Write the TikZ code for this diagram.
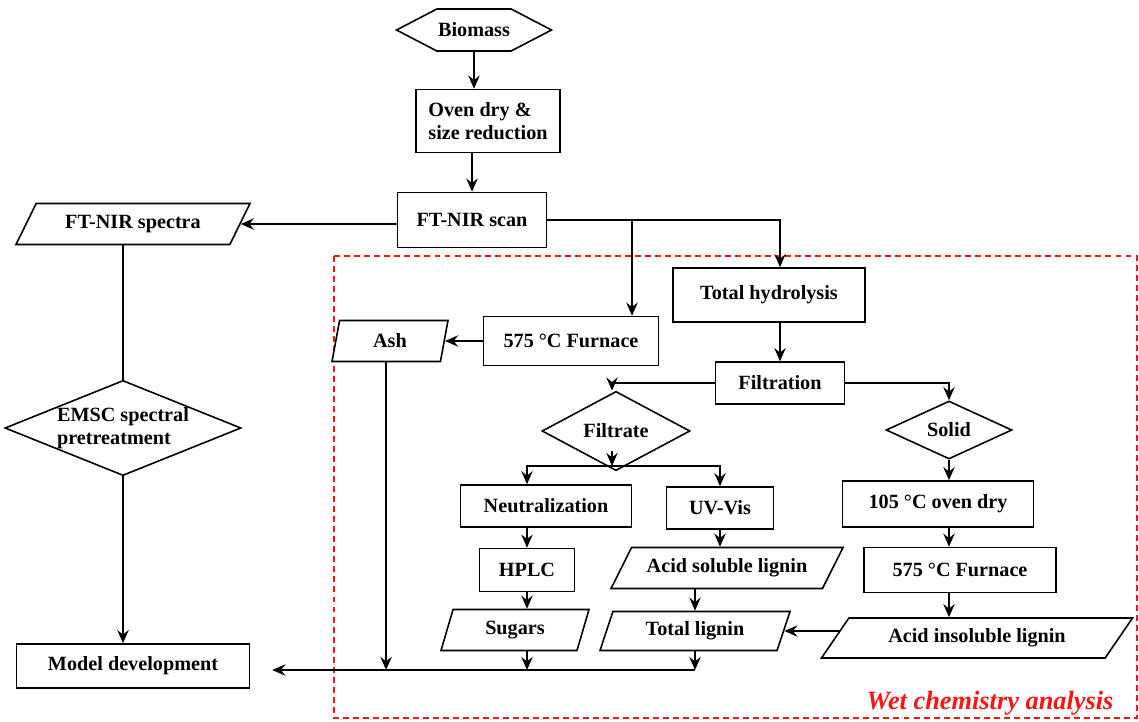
\documentclass[tikz,border=0pt]{standalone}
\usepackage{fontspec}
\setmainfont{Liberation Serif}
\usetikzlibrary{shapes.geometric,shapes.symbols,arrows.meta,backgrounds}
\newcommand{\px}{0.02cm}
\begin{document}
\begin{tikzpicture}[x=0.02cm,y=-0.02cm,
  font=\fontsize{11.5}{13.5}\selectfont\bfseries,
  every node/.style={inner sep=0pt},
  procbox/.style 2 args={draw,line width=0.9pt,fill=white,rectangle,
    minimum width=#1*\px,minimum height=#2*\px},
  datanode/.style n args={3}{draw,line width=0.9pt,fill=white,trapezium,
    trapezium left angle=#3,trapezium right angle=180-#3,
    trapezium stretches body,minimum width=#1*\px,minimum height=#2*\px},
  decision/.style 2 args={draw,line width=0.9pt,fill=white,diamond,
    minimum width=#1*\px,minimum height=#2*\px},
  hexa/.style={draw,line width=0.9pt,fill=white,signal,signal to=west and east,
    signal pointer angle=55,minimum width=155*\px,minimum height=42*\px},
  arr/.style={-{Stealth[length=7.5pt,width=6.5pt,inset=2.6pt]},line width=0.9pt}]
  \definecolor{wetred}{RGB}{255,20,20}
  \useasboundingbox (0,0) rectangle (1139,721);
  \draw[wetred,line width=0.6pt,dash pattern=on 3.4pt off 2.3pt] (334,256) rectangle (1137,718);

  % measurement path
  \node[hexa] (bio) at (474,30) {Biomass};
  \node[procbox={144}{63},align=left] (oven) at (488,121) {Oven dry \&\\size reduction};
  \node[procbox={149}{55}] (scan) at (472,220) {FT-NIR scan};
  \node[datanode={234}{41}{41}] (spectra) at (133,224) {FT-NIR spectra};
  \node[decision={233}{94},aspect=2.48,align=left] (emsc) at (123,428) {EMSC spectral\\pretreatment};
  \node[procbox={233}{44}] (model) at (133,666) {Model development};

  % wet chemistry
  \node[procbox={192}{54}] (hydro) at (769,295) {Total hydrolysis};
  \node[procbox={175}{49}] (fur1) at (571,341) {575 °C Furnace};
  \node[datanode={116}{41}{62}] (ash) at (390,341) {Ash};
  \node[procbox={129}{42}] (filt) at (780,383) {Filtration};
  \node[decision={148}{54}] (filtrate) at (616,431) {Filtrate};
  \node[decision={126}{53}] (solid) at (949,430) {Solid};
  \node[procbox={191}{46}] (dry) at (938,504) {105 °C oven dry};
  \node[procbox={192}{45}] (fur2) at (960,570) {575 °C Furnace};
  \node[datanode={311}{40}{34}] (ai) at (977,638) {Acid insoluble lignin};
  \node[procbox={171}{42}] (neut) at (546,506) {Neutralization};
  \node[procbox={107}{42}] (uv) at (720,508) {UV-Vis};
  \node[procbox={95}{43}] (hplc) at (527,570) {HPLC};
  \node[datanode={232}{41}{42}] (asl) at (727,568) {Acid soluble lignin};
  \node[datanode={190}{39}{55}] (tl) at (695,631) {Total lignin};
  \node[datanode={148}{41}{56}] (sugars) at (515,630) {Sugars};
  \node[text=wetred,font=\fontsize{15}{17}\selectfont\bfseries\itshape] (wet) at (990,703) {Wet chemistry analysis};

  \coordinate (split) at (632,220);
  \coordinate (fsplit) at (612,466);
  \coordinate (bus) at (695,670);

  \draw[arr] (bio.south) -- (bio.south |- oven.north);
  \draw[arr] (oven.south -| scan) -- (scan.north);
  \draw[arr] (scan.west |- spectra) -- (spectra.east);
  \draw[line width=0.9pt] (emsc.north |- spectra.south) -- (emsc.north);
  \draw[arr] (emsc.south) -- (emsc.south |- model.north);
  \draw[arr] (scan.east) -| (hydro.north -| filt.north);
  \draw[arr] (split) -- (split |- fur1.north);
  \draw[arr] (fur1.west) -- (ash.east);
  \draw[arr] (ash.bottom side) -- (ash.bottom side |- bus);
  \draw[arr] (filt.north |- hydro.south) -- (filt.north);
  \draw[arr] (filt.west) -| (fsplit |- filtrate.north);
  \draw[arr] (filt.east) -| (solid.north);
  \draw[arr] ([yshift=0.4cm]fsplit |- filtrate.south) -- (fsplit);
  \draw[arr] (fsplit) -| (hplc |- neut.north);
  \draw[arr] (fsplit) -| (uv.north);
  \draw[arr] (neut.south -| hplc) -- (hplc.north);
  \draw[arr] (hplc.south) -- (hplc.south |- sugars.north);
  \draw[arr] (sugars.south -| hplc) -- (hplc |- bus);
  \draw[arr] (uv.south) -- (uv.south |- asl.north);
  \draw[arr] (tl.north |- asl.south) -- (tl.north);
  \draw[arr] (tl.south) -- (tl.south |- bus);
  \draw[arr] (solid.south) -- (solid.south |- dry.north);
  \draw[arr] (dry.south -| solid) -- (solid |- fur2.north);
  \draw[arr] (fur2.south -| solid) -- (solid |- ai.north);
  \draw[arr,shorten >=0.44cm] (tl.south |- bus) -- (model.east |- bus);
  \begin{scope}[on background layer]
    \draw[arr] (ai.center |- tl.east) -- (tl.east);
  \end{scope}
\end{tikzpicture}
\end{document}
